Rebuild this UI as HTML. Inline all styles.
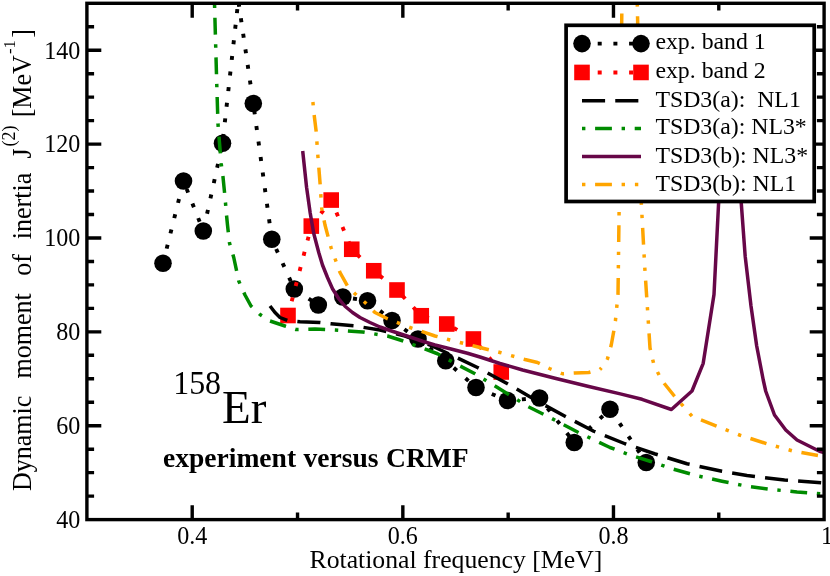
<!DOCTYPE html>
<html><head><meta charset="utf-8"><title>158Er J(2)</title>
<style>html,body{margin:0;padding:0;background:#fff}body{width:830px;height:576px;overflow:hidden;font-family:"Liberation Serif",serif}svg{display:block;will-change:transform}</style></head>
<body>
<svg width="830" height="576" viewBox="0 0 830 576" font-family='"Liberation Serif", serif' fill="#000">
<rect x="0" y="0" width="830" height="576" fill="#fff"/>
<defs><clipPath id="pc"><rect x="86.90" y="3.30" width="737.20" height="516.30"/></clipPath></defs>
<g clip-path="url(#pc)" fill="none" stroke-width="3.50" stroke-linejoin="round">
<path d="M163.00 263.30 L183.50 181.00" stroke="#000" stroke-width="3.9" stroke-dasharray="4.00 11.70" stroke-dashoffset="0.55"/>
<path d="M183.50 181.00 L203.30 231.00" stroke="#000" stroke-width="3.9" stroke-dasharray="4.00 11.70" stroke-dashoffset="7.20"/>
<path d="M203.30 231.00 L222.50 143.30" stroke="#000" stroke-width="3.9" stroke-dasharray="4.00 11.70" stroke-dashoffset="13.72"/>
<path d="M222.50 143.30 L238.30 0.50" stroke="#000" stroke-width="3.9" stroke-dasharray="4.00 11.70" stroke-dashoffset="10.30"/>
<path d="M238.30 0.50 L253.30 103.50" stroke="#000" stroke-width="3.9" stroke-dasharray="4.00 11.70" stroke-dashoffset="13.44"/>
<path d="M253.30 103.50 L271.80 239.30" stroke="#000" stroke-width="3.9" stroke-dasharray="4.00 11.70" stroke-dashoffset="8.75"/>
<path d="M271.80 239.30 L294.30 289.00" stroke="#000" stroke-width="3.9" stroke-dasharray="4.00 11.70" stroke-dashoffset="5.09"/>
<path d="M294.30 289.00 L318.30 305.00" stroke="#000" stroke-width="3.9" stroke-dasharray="4.00 11.70" stroke-dashoffset="14.17"/>
<path d="M318.30 305.00 L342.80 297.00" stroke="#000" stroke-width="3.9" stroke-dasharray="4.00 11.70" stroke-dashoffset="11.61"/>
<path d="M342.80 297.00 L367.50 300.75" stroke="#000" stroke-width="3.9" stroke-dasharray="4.00 11.70" stroke-dashoffset="5.38"/>
<path d="M367.50 300.75 L392.00 320.50" stroke="#000" stroke-width="3.9" stroke-dasharray="4.00 11.70" stroke-dashoffset="15.25"/>
<path d="M392.00 320.50 L418.00 339.00" stroke="#000" stroke-width="3.9" stroke-dasharray="4.00 11.70" stroke-dashoffset="0.58"/>
<path d="M418.00 339.00 L445.75 360.75" stroke="#000" stroke-width="3.9" stroke-dasharray="4.00 11.70" stroke-dashoffset="1.09"/>
<path d="M445.75 360.75 L476.00 387.50" stroke="#000" stroke-width="3.9" stroke-dasharray="4.00 11.70" stroke-dashoffset="5.02"/>
<path d="M476.00 387.50 L507.50 400.50" stroke="#000" stroke-width="3.9" stroke-dasharray="4.00 11.70" stroke-dashoffset="14.32"/>
<path d="M507.50 400.50 L539.50 398.00" stroke="#000" stroke-width="3.9" stroke-dasharray="4.00 11.70" stroke-dashoffset="1.30"/>
<path d="M539.50 398.00 L574.25 442.50" stroke="#000" stroke-width="3.9" stroke-dasharray="4.00 11.70" stroke-dashoffset="2.70"/>
<path d="M574.25 442.50 L610.00 409.25" stroke="#000" stroke-width="3.9" stroke-dasharray="4.00 11.70" stroke-dashoffset="11.96"/>
<path d="M610.00 409.25 L646.25 462.50" stroke="#000" stroke-width="3.9" stroke-dasharray="4.00 11.70" stroke-dashoffset="14.28"/>
<circle cx="163.00" cy="263.30" r="8.8" fill="#000" stroke="none"/>
<circle cx="183.50" cy="181.00" r="8.8" fill="#000" stroke="none"/>
<circle cx="203.30" cy="231.00" r="8.8" fill="#000" stroke="none"/>
<circle cx="222.50" cy="143.30" r="8.8" fill="#000" stroke="none"/>
<circle cx="253.30" cy="103.50" r="8.8" fill="#000" stroke="none"/>
<circle cx="271.80" cy="239.30" r="8.8" fill="#000" stroke="none"/>
<circle cx="294.30" cy="289.00" r="8.8" fill="#000" stroke="none"/>
<circle cx="318.30" cy="305.00" r="8.8" fill="#000" stroke="none"/>
<circle cx="342.80" cy="297.00" r="8.8" fill="#000" stroke="none"/>
<circle cx="367.50" cy="300.75" r="8.8" fill="#000" stroke="none"/>
<circle cx="392.00" cy="320.50" r="8.8" fill="#000" stroke="none"/>
<circle cx="418.00" cy="339.00" r="8.8" fill="#000" stroke="none"/>
<circle cx="445.75" cy="360.75" r="8.8" fill="#000" stroke="none"/>
<circle cx="476.00" cy="387.50" r="8.8" fill="#000" stroke="none"/>
<circle cx="507.50" cy="400.50" r="8.8" fill="#000" stroke="none"/>
<circle cx="539.50" cy="398.00" r="8.8" fill="#000" stroke="none"/>
<circle cx="574.25" cy="442.50" r="8.8" fill="#000" stroke="none"/>
<circle cx="610.00" cy="409.25" r="8.8" fill="#000" stroke="none"/>
<circle cx="646.25" cy="462.50" r="8.8" fill="#000" stroke="none"/>
<path d="M288.00 315.50 L311.30 226.10" stroke="#f00" stroke-width="3.9" stroke-dasharray="4.00 11.70" stroke-dashoffset="1.01"/>
<path d="M311.30 226.10 L331.20 200.05" stroke="#f00" stroke-width="3.9" stroke-dasharray="4.00 11.70" stroke-dashoffset="15.56"/>
<path d="M331.20 200.05 L351.75 249.25" stroke="#f00" stroke-width="3.9" stroke-dasharray="4.00 11.70" stroke-dashoffset="2.12"/>
<path d="M351.75 249.25 L373.75 270.75" stroke="#f00" stroke-width="3.9" stroke-dasharray="4.00 11.70" stroke-dashoffset="7.98"/>
<path d="M373.75 270.75 L397.00 290.00" stroke="#f00" stroke-width="3.9" stroke-dasharray="4.00 11.70" stroke-dashoffset="7.78"/>
<path d="M397.00 290.00 L421.25 315.75" stroke="#f00" stroke-width="3.9" stroke-dasharray="4.00 11.70" stroke-dashoffset="7.70"/>
<path d="M421.25 315.75 L446.75 324.00" stroke="#f00" stroke-width="3.9" stroke-dasharray="4.00 11.70" stroke-dashoffset="11.67"/>
<path d="M446.75 324.00 L473.40 339.00" stroke="#f00" stroke-width="3.9" stroke-dasharray="4.00 11.70" stroke-dashoffset="7.66"/>
<path d="M473.40 339.00 L501.25 372.00" stroke="#f00" stroke-width="3.9" stroke-dasharray="4.00 11.70" stroke-dashoffset="7.03"/>
<rect x="280.20" y="307.70" width="15.6" height="15.6" fill="#f00" stroke="none"/>
<rect x="303.50" y="218.30" width="15.6" height="15.6" fill="#f00" stroke="none"/>
<rect x="323.40" y="192.25" width="15.6" height="15.6" fill="#f00" stroke="none"/>
<rect x="343.95" y="241.45" width="15.6" height="15.6" fill="#f00" stroke="none"/>
<rect x="365.95" y="262.95" width="15.6" height="15.6" fill="#f00" stroke="none"/>
<rect x="389.20" y="282.20" width="15.6" height="15.6" fill="#f00" stroke="none"/>
<rect x="413.45" y="307.95" width="15.6" height="15.6" fill="#f00" stroke="none"/>
<rect x="438.95" y="316.20" width="15.6" height="15.6" fill="#f00" stroke="none"/>
<rect x="465.60" y="331.20" width="15.6" height="15.6" fill="#f00" stroke="none"/>
<rect x="493.45" y="364.20" width="15.6" height="15.6" fill="#f00" stroke="none"/>
<path d="M270.00 306.00 L275.00 312.50 L280.00 317.50 L287.50 320.50 L300.00 321.75 L320.00 322.50 L331.00 323.75 L355.00 326.00 L380.00 330.00 L405.00 336.00 L430.00 345.00 L452.50 355.50 L477.50 367.50 L507.50 383.75 L537.50 401.25 L565.00 416.25 L593.75 431.25 L625.00 443.75 L654.50 453.75 L687.00 463.75 L722.00 471.25 L747.00 475.50 L784.50 480.00 L824.00 483.00" stroke="#000" stroke-dasharray="23.1 10.15"/>
<path d="M214.30 -20.00 L214.50 3.00 L216.75 84.00 L218.00 124.00 L219.50 143.00 L221.25 164.00 L223.00 177.00 L225.00 197.00 L226.50 215.00 L227.50 225.00 L229.50 243.00 L233.75 257.50 L238.75 281.00 L245.00 295.00 L251.00 306.00 L260.00 314.50 L270.00 321.00 L285.00 326.00 L296.00 329.50 L315.00 329.00 L335.00 330.00 L362.50 332.00 L387.50 336.00 L402.50 340.75 L437.50 353.75 L460.00 366.00 L475.00 373.75 L507.50 393.75 L527.50 406.25 L550.00 417.50 L577.50 432.00 L610.00 447.50 L630.00 455.00 L650.00 461.25 L672.00 468.75 L697.00 475.75 L722.00 481.25 L747.00 486.25 L772.00 489.50 L797.00 492.00 L824.00 494.00" stroke="#008b00" stroke-dasharray="3.4 9.71 16.83 9.71" stroke-dashoffset="15"/>
<path d="M302.70 151.00 L306.60 187.50 L310.20 213.00 L313.75 233.50 L318.75 252.50 L322.50 265.00 L327.50 277.50 L332.50 288.75 L338.75 298.75 L345.00 306.25 L352.50 312.50 L360.00 317.50 L370.00 322.50 L380.00 327.00 L390.00 330.50 L400.00 333.75 L410.00 337.00 L422.50 341.25 L435.00 345.00 L450.00 348.75 L467.50 353.25 L480.00 357.00 L500.00 363.50 L522.60 370.00 L555.00 378.30 L587.70 386.30 L620.30 393.90 L642.00 399.30 L671.40 409.50 L692.00 391.00 L703.20 363.30 L714.00 294.50 L718.50 205.00 L729.50 40.00 L741.40 205.00 L745.20 256.40 L751.00 306.00 L756.70 346.00 L763.25 380.00 L765.75 391.25 L774.50 415.00 L785.75 430.00 L797.00 440.00 L819.50 451.25 L824.00 452.50" stroke="#670748"/>
<path d="M312.90 102.00 L314.15 115.00 L316.15 131.25 L317.90 156.25 L320.10 183.75 L321.75 208.75 L325.00 225.00 L331.00 247.50 L340.00 272.50 L347.50 286.00 L355.00 293.75 L365.00 302.50 L375.00 312.50 L387.50 318.75 L410.00 327.50 L435.00 336.00 L450.00 340.00 L475.00 346.25 L500.00 352.50 L525.00 359.50 L537.50 362.50 L550.00 368.75 L562.50 373.75 L575.00 373.00 L588.75 372.50 L600.00 369.50" stroke="#ffa500" stroke-dasharray="3.4 9.7 16.8 9.7 3.4 9.9"/>
<path d="M600.00 369.50 L604.00 365.00 L607.50 358.75 L611.25 345.00 L613.75 331.25 L615.40 321.00 L618.00 294.50 L619.20 203.00 L621.75 18.00 L622.10 -10.00" stroke="#ffa500" stroke-dasharray="3.4 9.7 16.8 9.7 3.4 9.9" stroke-dashoffset="40.85"/>
<path d="M637.00 -10.00 L637.50 14.00 L641.30 203.00 L644.80 268.00 L647.80 313.70 L650.00 348.00 L653.50 363.00 L657.50 372.00 L661.00 378.60 L664.50 383.75 L674.50 396.25 L683.25 406.25 L692.00 416.25 L717.00 426.25 L739.50 435.00 L767.00 443.75 L792.00 450.75 L819.50 455.75 L824.00 456.50" stroke="#ffa500" stroke-dasharray="3.4 9.7 16.8 9.7 3.4 9.9" stroke-dashoffset="-13.2"/>
</g>
<g stroke="#000" stroke-width="3.40" fill="none">
<path d="M192.21 519.60 v-14.40 M192.21 3.30 v14.40"/>
<path d="M297.53 519.60 v-7.20 M297.53 3.30 v7.20"/>
<path d="M402.84 519.60 v-14.40 M402.84 3.30 v14.40"/>
<path d="M508.16 519.60 v-7.20 M508.16 3.30 v7.20"/>
<path d="M613.47 519.60 v-14.40 M613.47 3.30 v14.40"/>
<path d="M718.79 519.60 v-7.20 M718.79 3.30 v7.20"/>
<path d="M86.90 496.13 h7.20 M824.10 496.13 h-7.20"/>
<path d="M86.90 472.66 h7.20 M824.10 472.66 h-7.20"/>
<path d="M86.90 449.20 h7.20 M824.10 449.20 h-7.20"/>
<path d="M86.90 425.73 h14.40 M824.10 425.73 h-14.40"/>
<path d="M86.90 402.26 h7.20 M824.10 402.26 h-7.20"/>
<path d="M86.90 378.79 h7.20 M824.10 378.79 h-7.20"/>
<path d="M86.90 355.32 h7.20 M824.10 355.32 h-7.20"/>
<path d="M86.90 331.85 h14.40 M824.10 331.85 h-14.40"/>
<path d="M86.90 308.39 h7.20 M824.10 308.39 h-7.20"/>
<path d="M86.90 284.92 h7.20 M824.10 284.92 h-7.20"/>
<path d="M86.90 261.45 h7.20 M824.10 261.45 h-7.20"/>
<path d="M86.90 237.98 h14.40 M824.10 237.98 h-14.40"/>
<path d="M86.90 214.51 h7.20 M824.10 214.51 h-7.20"/>
<path d="M86.90 191.05 h7.20 M824.10 191.05 h-7.20"/>
<path d="M86.90 167.58 h7.20 M824.10 167.58 h-7.20"/>
<path d="M86.90 144.11 h14.40 M824.10 144.11 h-14.40"/>
<path d="M86.90 120.64 h7.20 M824.10 120.64 h-7.20"/>
<path d="M86.90 97.17 h7.20 M824.10 97.17 h-7.20"/>
<path d="M86.90 73.70 h7.20 M824.10 73.70 h-7.20"/>
<path d="M86.90 50.24 h14.40 M824.10 50.24 h-14.40"/>
<path d="M86.90 26.77 h7.20 M824.10 26.77 h-7.20"/>
<rect x="86.90" y="3.30" width="737.20" height="516.30"/>
</g>
<g font-size="26.2px">
<text transform="translate(192.21 543.5) scale(0.920 1)" text-anchor="middle">0.4</text>
<text transform="translate(402.84 543.5) scale(0.920 1)" text-anchor="middle">0.6</text>
<text transform="translate(613.47 543.5) scale(0.920 1)" text-anchor="middle">0.8</text>
<text transform="translate(826.90 543.5) scale(0.920 1)" text-anchor="middle">1</text>
<text transform="translate(80.3 527.90) scale(0.920 1)" text-anchor="end">40</text>
<text transform="translate(80.3 434.03) scale(0.920 1)" text-anchor="end">60</text>
<text transform="translate(80.3 340.15) scale(0.920 1)" text-anchor="end">80</text>
<text transform="translate(80.3 246.28) scale(0.920 1)" text-anchor="end">100</text>
<text transform="translate(80.3 152.41) scale(0.920 1)" text-anchor="end">120</text>
<text transform="translate(80.3 58.54) scale(0.920 1)" text-anchor="end">140</text>
</g>
<text x="455.9" y="567.8" font-size="25.72px" text-anchor="middle">Rotational frequency [MeV]</text>
<g transform="translate(31.2 0) rotate(-90) scale(0.945 1)" font-size="27.5px">
<text x="-519.58" y="0">Dynamic</text>
<text x="-400.42" y="0">moment</text>
<text x="-291.80" y="0">of</text>
<text x="-253.12" y="0">inertia</text>
<text x="-167.72" y="0">J</text>
<text x="-154.92" y="-16.6" font-size="19px">(2)</text>
<text x="-124.13" y="0">[MeV<tspan font-size="17.6px" dx="1.2" dy="-16.6">-1</tspan></text>
<text x="-40.00" y="0">]</text>
</g>
<text transform="translate(173.2 393.7) scale(0.967 1)" font-size="33px">158</text>
<text x="222.1" y="422.75" font-size="47px">Er</text>
<text x="163.0" y="467.0" font-size="27.55px" font-weight="bold" word-spacing="0.6">experiment versus CRMF</text>
<rect x="566.10" y="25.30" width="248.10" height="176.20" fill="#fff" stroke="#000" stroke-width="3.7"/>
<g fill="none" stroke-width="3.50">
<path d="M582.00 43.60 H641.00" stroke="#000" stroke-width="3.9" stroke-dasharray="4.00 11.70"/>
<circle cx="582.00" cy="43.60" r="8.8" fill="#000"/><circle cx="641.00" cy="43.60" r="8.8" fill="#000"/>
<path d="M582.00 72.45 H641.00" stroke="#f00" stroke-width="3.9" stroke-dasharray="4.00 11.70"/>
<rect x="574.20" y="64.65" width="15.6" height="15.6" fill="#f00"/>
<rect x="633.20" y="64.65" width="15.6" height="15.6" fill="#f00"/>
<path d="M582.00 100.70 H641.00" stroke="#000" stroke-dasharray="23.1 10.15"/>
<path d="M582.00 128.60 H641.00" stroke="#008b00" stroke-dasharray="3.4 9.7 16.8 9.7"/>
<path d="M582.00 156.50 H641.00" stroke="#670748"/>
<path d="M582.00 184.40 H641.00" stroke="#ffa500" stroke-dasharray="3.4 9.7 16.8 9.7 3.4 9.9"/>
</g>
<g font-size="23.8px">
<text x="655.4" y="48.80" xml:space="preserve" style="white-space:pre">exp. band 1</text>
<text x="655.4" y="77.60" xml:space="preserve" style="white-space:pre">exp. band 2</text>
<text x="655.4" y="106.70" xml:space="preserve" style="white-space:pre">TSD3(a):  NL1</text>
<text x="655.4" y="134.40" xml:space="preserve" style="white-space:pre">TSD3(a): NL3*</text>
<text x="655.4" y="162.60" xml:space="preserve" style="white-space:pre">TSD3(b): NL3*</text>
<text x="655.4" y="190.80" xml:space="preserve" style="white-space:pre">TSD3(b): NL1</text>
</g>
</svg>
</body></html>
